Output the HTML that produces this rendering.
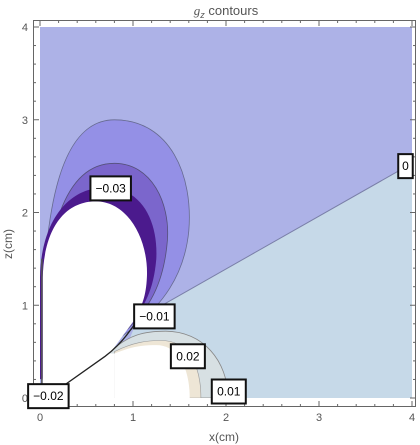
<!DOCTYPE html>
<html><head><meta charset="utf-8"><style>
body{margin:0;background:#fff;}
svg{display:block;font-family:"Liberation Sans",sans-serif;}
</style></head><body>
<svg id="c" width="420" height="445">
<text x="226" y="15" text-anchor="middle" font-size="13" fill="#555"><tspan font-style="italic" font-family="Liberation Serif">g</tspan><tspan font-size="9" dy="3" font-style="italic">z</tspan><tspan dy="-3">  contours</tspan></text>
<g id="plot"></g>
<g id="axes"></g>
<g id="labels"></g>
<text x="224" y="441" text-anchor="middle" font-size="12" fill="#555">x(cm)</text>
<text transform="translate(12,244) rotate(-90)" text-anchor="middle" font-size="12" fill="#555">z(cm)</text>
</svg>
<script>
const xTicks=[0,1,2,3,4];
const yTicks=[0,1,2,3,4];
const contourLevels=["-0.03","-0.01","0.02","0.01","0","-0.02"];
const labelPos=[[0.76,2.26],[1.23,0.88],[1.59,0.45],[2.03,0.07],[3.93,2.5],[0.09,0.02]];
// contour region shapes (data coords, cm)
const regionLightBlue=[[1.05,0.85],[4,2.53],[4,0],[0.7,0]];
const regionOuter=[[0.02,0.2],[0,2.0],[0.2,3.0],[0.8,3.0],[1.4,3.0],[1.65,2.4],[1.6,1.8],[1.55,1.3],[1.3,1.0],[1.0,0.75]];
const regionMid=[[0.02,0.2],[0,1.9],[0.3,2.53],[0.8,2.53],[1.2,2.53],[1.4,2.1],[1.37,1.7],[1.33,1.2],[1.15,0.95],[0.95,0.75]];
const regionDark=[[0.0,0.2],[0,0.6],[0,1.0],[0,1.3],[0.01,1.9],[0.3,2.27],[0.7,2.27],[1.1,2.27],[1.27,1.9],[1.25,1.5],[1.22,1.15],[1.12,0.97],[0.9,0.7]];
const regionGray=[[0.7,0.45],[0.95,0.7],[1.15,0.72],[1.35,0.72],[1.75,0.72],[2.02,0.4],[2.02,0]];
const regionCream=[[0.8,0.5],[1.0,0.6],[1.15,0.62],[1.3,0.62],[1.6,0.62],[1.73,0.35],[1.73,0]];
const regionWhiteLow=[[0.8,0.48],[1.0,0.56],[1.1,0.57],[1.25,0.57],[1.5,0.57],[1.61,0.3],[1.61,0]];
const regionWhiteEgg=[[0.03,0],[0.03,0.5],[0.03,0.9],[0.03,1.3],[0.04,1.8],[0.25,2.12],[0.6,2.12],[0.95,2.12],[1.17,1.7],[1.15,1.3],[1.14,1.1],[1.1,1.0],[1.02,0.85]];
const X=v=>40+v*93, Y=v=>398-v*92.75;
const ns="http://www.w3.org/2000/svg";
const plot=document.getElementById('plot'),axes=document.getElementById('axes'),labs=document.getElementById('labels');
function mk(t,a,p){const e=document.createElementNS(ns,t);for(const k in a)e.setAttribute(k,a[k]);p.appendChild(e);return e;}
function pt(p){return X(p[0]).toFixed(1)+","+Y(p[1]).toFixed(1);}
function bez(r){let d="M"+pt(r[0]);for(let i=1;i+2<r.length;i+=3)d+=" C"+pt(r[i])+" "+pt(r[i+1])+" "+pt(r[i+2]);return d;}
let e;
e=mk('rect',{x:X(0),y:Y(4),width:X(4)-X(0),height:Y(0)-Y(4),fill:'#adb2e7'},plot);

e=mk('path',{d:"M"+regionLightBlue.map(pt).join(" L")+"Z",fill:'#c6d9e8',stroke:'none'},plot);

mk('line',{x1:X(1.05),y1:Y(0.85),x2:X(4),y2:Y(2.53),stroke:'#7a7fa8','stroke-width':1},plot);
e=mk('path',{d:bez(regionGray)+" L"+pt([0.7,0])+"Z",fill:'#d7e0e3',stroke:'#888','stroke-width':0.8},plot);

e=mk('path',{d:bez(regionCream)+" L"+pt([0.8,0])+"Z",fill:'#eee6d6',stroke:'#999','stroke-width':0.6},plot);

e=mk('path',{d:bez(regionOuter)+" L"+pt([0.5,0.4])+"Z",fill:'#9490e6',stroke:'#666a90','stroke-width':0.8},plot);

e=mk('path',{d:bez(regionMid)+" L"+pt([0.5,0.4])+"Z",fill:'#7b66cc',stroke:'#55507a','stroke-width':0.8},plot);

e=mk('path',{d:bez(regionDark)+" L"+pt([0.5,0.4])+"Z",fill:'#4b1a8d',stroke:'none'},plot);

e=mk('path',{d:bez(regionWhiteEgg)+" L"+pt([0.75,0.48])+" L"+pt([0.8,0.48])+" L"+pt([0.8,0])+"Z",fill:'#fff',stroke:'none'},plot);

e=mk('path',{d:bez(regionWhiteLow)+" L"+pt([0.8,0])+"Z",fill:'#fff',stroke:'none'},plot);

mk('rect',{x:X(0),y:Y(0),width:X(4)-X(0)+4,height:10,fill:'#fff'},plot);
mk('line',{x1:X(0.02),y1:Y(0.15),x2:X(0.02),y2:Y(1.5),stroke:'#555','stroke-width':1.5},plot);
mk('path',{d:"M"+pt([0.25,0.13])+" L"+pt([0.7,0.45])+" Q"+pt([0.9,0.6])+" "+pt([1.05,0.85]),stroke:'#222',fill:'none','stroke-width':1.3},plot);
// frame
mk('rect',{x:33.5,y:20.5,width:382,height:386,fill:'none',stroke:'#666','stroke-width':1},axes);
for(let v=0;v<=4.001;v+=0.2){const maj=Math.abs(v-Math.round(v))<1e-6,L=maj?6:3;
 mk('line',{x1:X(v),y1:407,x2:X(v),y2:407-L,stroke:'#666'},axes);
 mk('line',{x1:X(v),y1:20,x2:X(v),y2:20+L,stroke:'#666'},axes);
 mk('line',{x1:33,y1:Y(v),x2:33+L,y2:Y(v),stroke:'#666'},axes);
 mk('line',{x1:416,y1:Y(v),x2:416-L,y2:Y(v),stroke:'#666'},axes);}
xTicks.forEach(v=>{const t=mk('text',{x:X(v),y:421,'text-anchor':'middle','font-size':11,fill:'#555'},axes);t.textContent=v;
});
yTicks.forEach(v=>{const t=mk('text',{x:28,y:Y(v)+4,'text-anchor':'end','font-size':11,fill:'#555'},axes);t.textContent=v;
});
contourLevels.forEach((s,i)=>{const cx=X(labelPos[i][0]),cy=Y(labelPos[i][1]);const w=s.length*6.5+8;
 const g=mk('g',{},labs);
 
 
 mk('rect',{x:cx-w/2,y:cy-12,width:w,height:24,fill:'#fff',stroke:'#111','stroke-width':2},g);
 const t=mk('text',{x:cx,y:cy+4,'text-anchor':'middle','font-size':12,fill:'#000'},g);t.textContent=s.replace('-','\u2212');});
</script>
</body></html>
